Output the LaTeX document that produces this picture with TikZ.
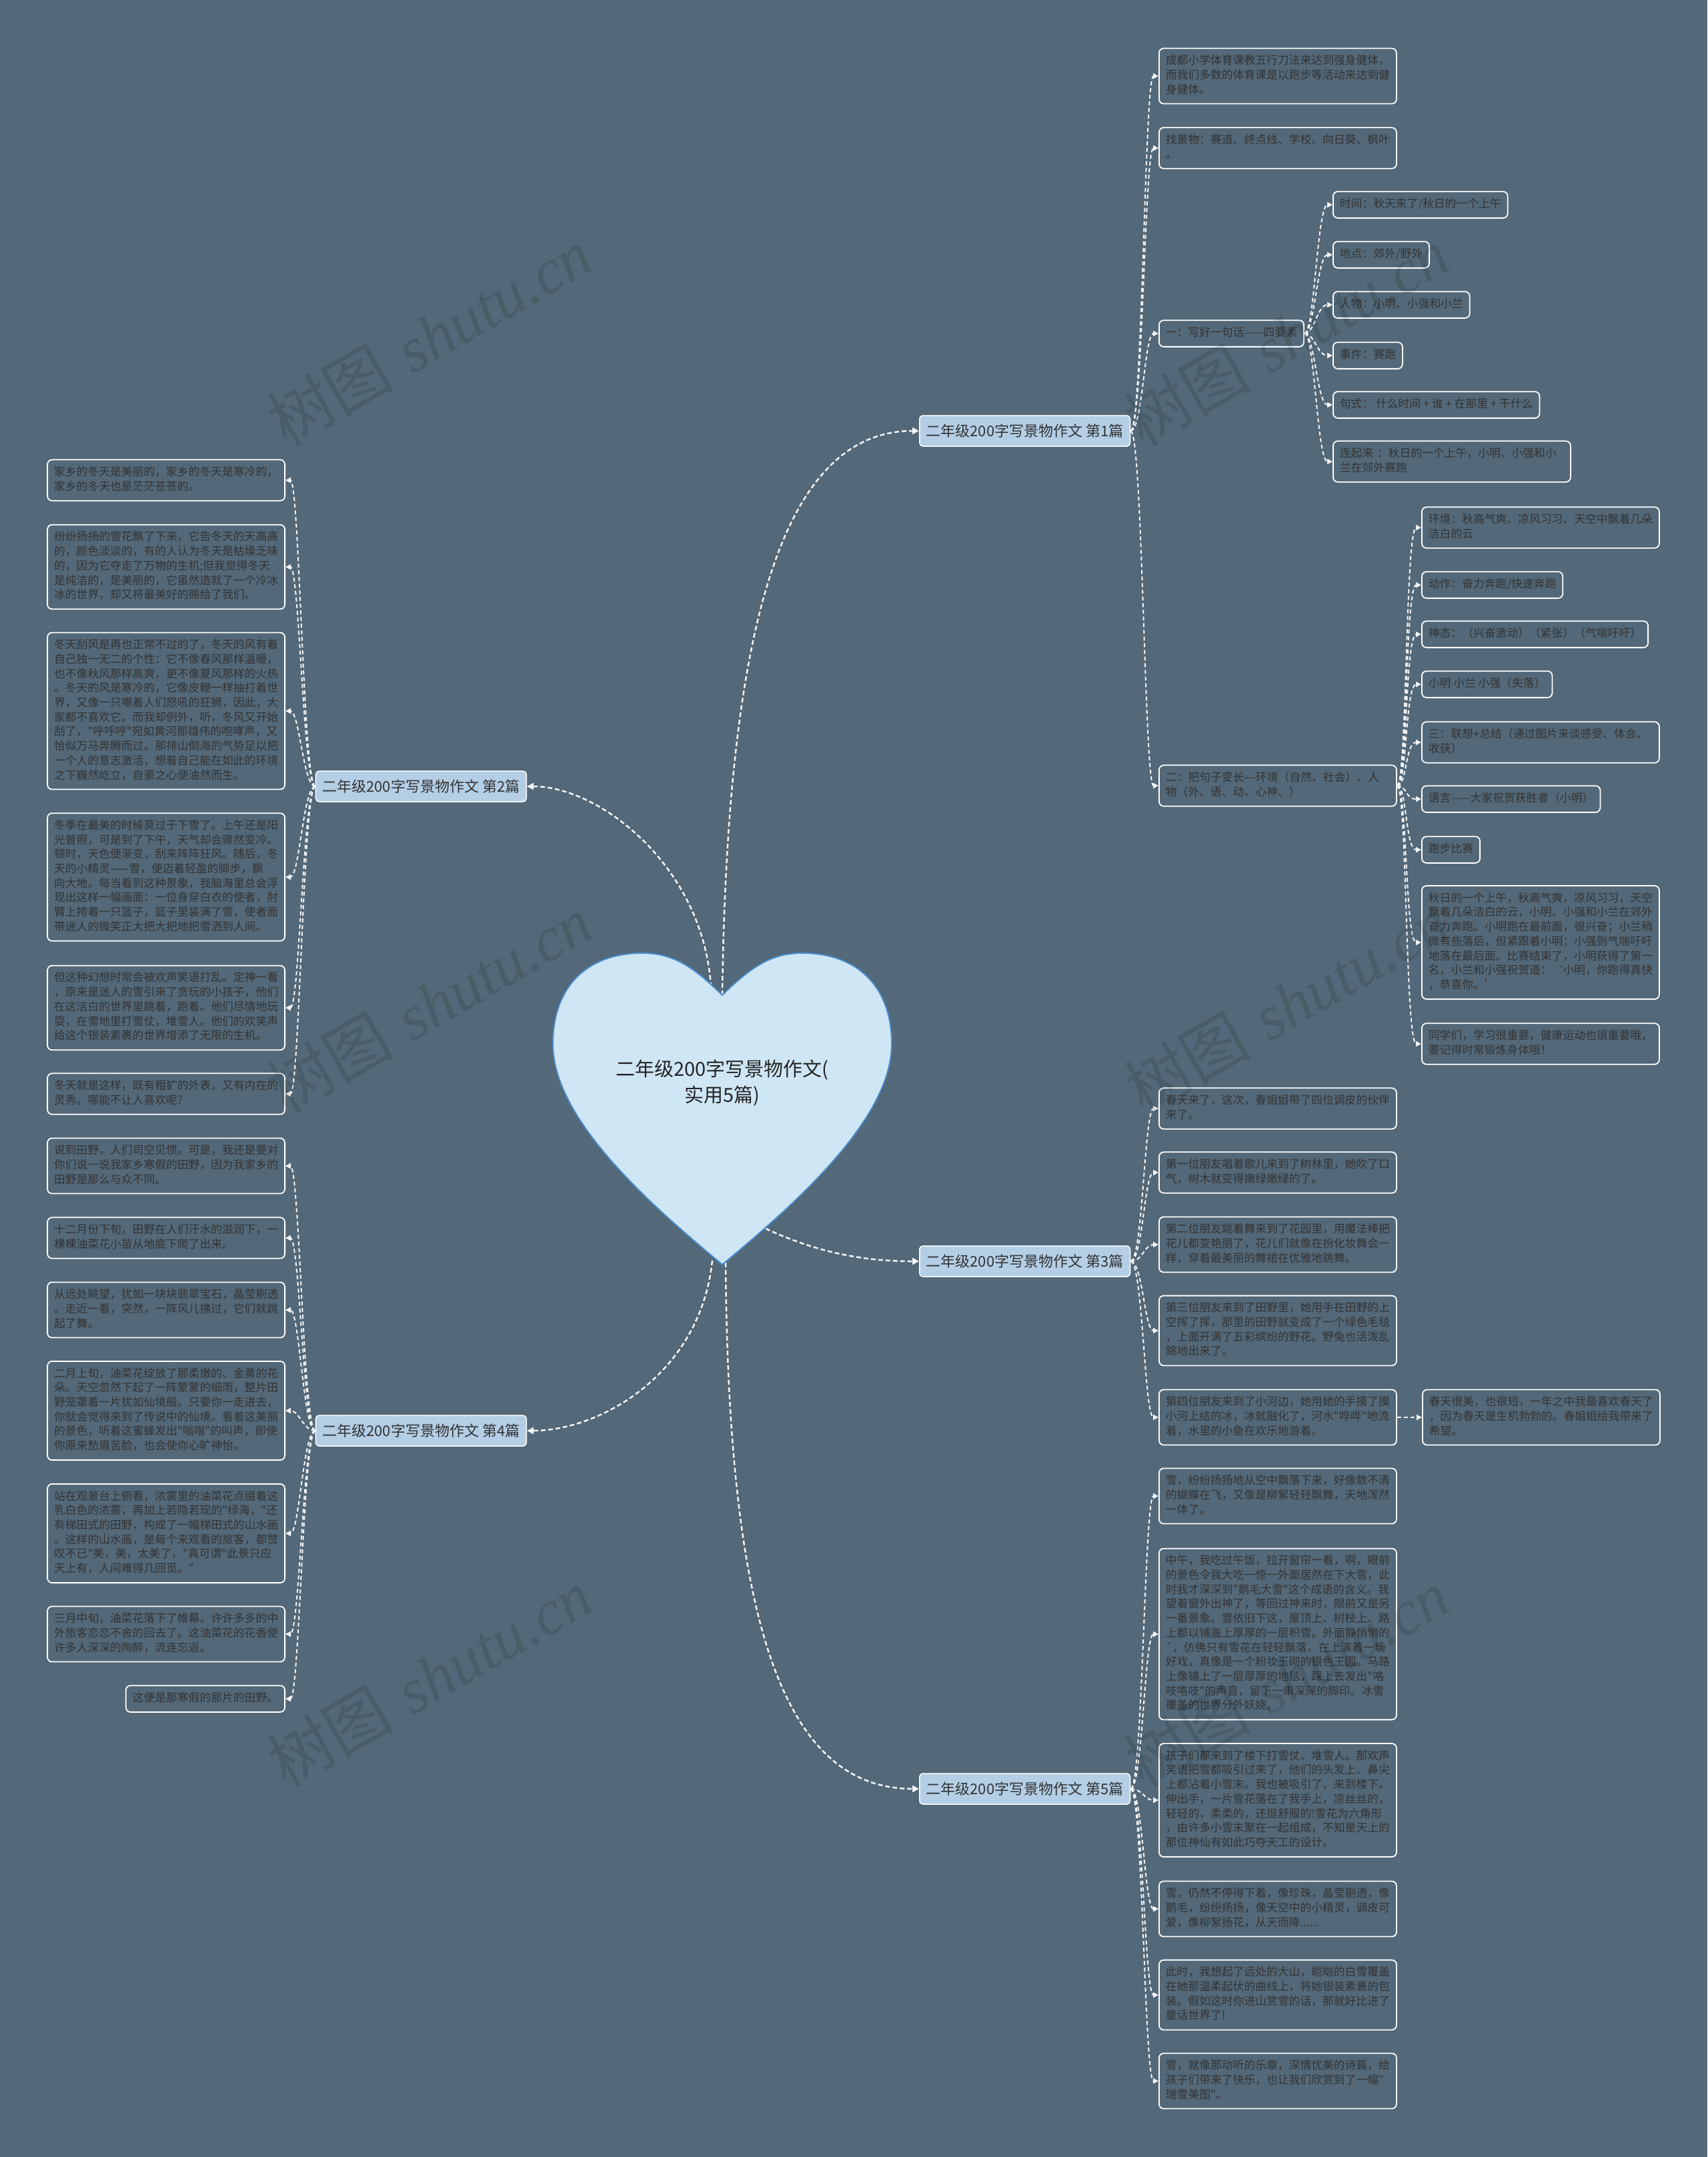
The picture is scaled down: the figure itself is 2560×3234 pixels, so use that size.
\documentclass[tikz,border=0pt]{standalone}
\usepackage{fontspec}
\newfontfamily\cjk{Noto Sans CJK SC}
\newfontfamily\wmlat{Liberation Serif}
\usetikzlibrary{arrows.meta}
\definecolor{bg}{HTML}{536878}
\definecolor{txt}{HTML}{333333}
\definecolor{brfill}{HTML}{B3CEE5}
\definecolor{hfill}{HTML}{CFE6F5}
\definecolor{hline}{HTML}{4B8BC8}
\definecolor{lnk}{HTML}{F2F5F8}
\tikzset{
  leaf/.style={draw=white, line width=1.8pt, rounded corners=7pt, fill=bg, text=txt,
    font=\cjk\fontsize{16.8}{21.7}\selectfont, inner xsep=10pt, inner ysep=9pt, align=left,
    execute at begin node=\noindent\strut, execute at end node=\strut},
  leafw/.style={leaf, text width=336pt},
  branch/.style={draw=white, line width=1.5pt, rounded corners=5pt, fill=brfill, text=txt,
    font=\cjk\fontsize{22}{26}\selectfont, inner xsep=10pt, inner ysep=0pt, minimum height=46pt},
  conn/.style={draw=lnk, line width=2pt, dash pattern=on 6pt off 4pt, -{Triangle[length=8pt,width=8pt]}},
  mainconn/.style={draw=lnk, line width=2.5pt, dash pattern=on 7pt off 4pt, -{Triangle[length=10pt,width=10pt]}},
  wm/.style={text=black, opacity=0.11, rotate=30, font=\fontsize{95}{100}\selectfont},
}
\begin{document}
\begin{tikzpicture}[x=1pt,y=-1pt]
\useasboundingbox (0,0) rectangle (2560,3234);
\fill[bg] (0,0) rectangle (2560,3234);

% ---------- heart anchor points ----------
\coordinate (hdip) at (1083,1492);
\coordinate (h2) at (1066,1480);
\coordinate (h3) at (1148,1842);
\coordinate (h4) at (1068,1890);
\coordinate (h5) at (1088,1893);

% ---------- branches ----------
\node[branch, anchor=west] (b1) at (1378,646) {二年级200字写景物作文 第1篇};
\node[branch, anchor=east] (b2) at (790,1179) {二年级200字写景物作文 第2篇};
\node[branch, anchor=west] (b3) at (1378,1891) {二年级200字写景物作文 第3篇};
\node[branch, anchor=east] (b4) at (790,2145) {二年级200字写景物作文 第4篇};
\node[branch, anchor=west] (b5) at (1378,2682) {二年级200字写景物作文 第5篇};

% ---------- 第1篇 ----------
\node[leafw, anchor=west] (a1) at (1737,114) {成都小学体育课教五行刀法来达到强身健体，\\而我们多数的体育课是以跑步等活动来达到健\\身健体。};
\node[leafw, anchor=west] (a2) at (1737,222) {找景物：赛道、终点线、学校、向日葵、枫叶\\。};
\node[leaf, anchor=west] (a3) at (1737,500) {一：写好一句话-{}-{}-{}-{}-四要素};
\node[leafw, anchor=west] (n2) at (1737,1178) {二：把句子变长-{}-{}-环境（自然、社会）、人\\物（外、语、动、心神、）};

\node[leaf, anchor=west] (t1) at (1998,307) {时间：秋天来了/秋日的一个上午};
\node[leaf, anchor=west] (t2) at (1998,382) {地点：郊外/野外};
\node[leaf, anchor=west] (t3) at (1998,457) {人物：小明、小强和小兰};
\node[leaf, anchor=west] (t4) at (1998,533) {事件：赛跑};
\node[leaf, anchor=west] (t5) at (1998,607) {句式： 什么时间 + 谁 + 在那里 + 干什么};
\node[leafw, anchor=west] (t6) at (1998,692) {连起来 ：秋日的一个上午，小明、小强和小\\兰在郊外赛跑};

\node[leafw, anchor=west] (u1) at (2131,791) {环境：秋高气爽、凉风习习、天空中飘着几朵\\洁白的云};
\node[leaf, anchor=west] (u2) at (2131,877) {动作：奋力奔跑/快速奔跑};
\node[leaf, anchor=west] (u3) at (2131,951) {神态：（兴奋激动）（紧张）（气喘吁吁）};
\node[leaf, anchor=west] (u4) at (2131,1026) {小明 小兰 小强（失落）};
\node[leafw, anchor=west] (u5) at (2131,1113) {三：联想+总结（通过图片来谈感受、体会、\\收获）};
\node[leaf, anchor=west] (u6) at (2131,1198) {语言-{}-{}-{}-{}-大家祝贺获胜者（小明）};
\node[leaf, anchor=west] (u7) at (2131,1274) {跑步比赛};
\node[leafw, anchor=west] (u8) at (2131,1413) {秋日的一个上午，秋高气爽，凉风习习，天空\\飘着几朵洁白的云，小明、小强和小兰在郊外\\奋力奔跑。小明跑在最前面，很兴奋；小兰稍\\微有些落后，但紧跟着小明；小强则气喘吁吁\\地落在最后面。比赛结束了，小明获得了第一\\名，小兰和小强祝贺道：‘小明，你跑得真快\\，恭喜你。’};
\node[leafw, anchor=west] (u9) at (2131,1565) {同学们，学习很重要，健康运动也很重要哦，\\要记得时常锻炼身体哦！};

% ---------- 第3篇 ----------
\node[leafw, anchor=west] (s1) at (1737,1662) {春天来了，这次，春姐姐带了四位调皮的伙伴\\来了。};
\node[leafw, anchor=west] (s2) at (1737,1758) {第一位朋友唱着歌儿来到了树林里，她吹了口\\气，树木就变得嫩绿嫩绿的了。};
\node[leafw, anchor=west] (s3) at (1737,1866) {第二位朋友跳着舞来到了花园里，用魔法棒把\\花儿都变艳丽了，花儿们就像在扮化妆舞会一\\样，穿着最美丽的舞裙在优雅地跳舞。};
\node[leafw, anchor=west] (s4) at (1737,1995) {第三位朋友来到了田野里，她用手在田野的上\\空挥了挥，那里的田野就变成了一个绿色毛毯\\，上面开满了五彩缤纷的野花。野兔也活泼乱\\跳地出来了。};
\node[leafw, anchor=west] (s5) at (1737,2125) {第四位朋友来到了小河边，她用她的手摸了摸\\小河上结的冰，冰就融化了，河水"哗哗"地流\\着，水里的小鱼在欢乐地游着。};
\node[leafw, anchor=west] (s6) at (2132,2125) {春天很美，也很短，一年之中我最喜欢春天了\\，因为春天是生机勃勃的。春姐姐给我带来了\\希望。};

% ---------- 第5篇 ----------
\node[leafw, anchor=west] (w1) at (1737,2243) {雪，纷纷扬扬地从空中飘落下来，好像数不清\\的蝴蝶在飞，又像是柳絮轻轻飘舞，天地浑然\\一体了。};
\node[leafw, anchor=west] (w2) at (1737,2450) {中午，我吃过午饭，拉开窗帘一看，啊，眼前\\的景色令我大吃一惊一外面居然在下大雪，此\\时我才深深到"鹅毛大雪"这个成语的含义。我\\望着窗外出神了，等回过神来时，眼前又是另\\一番景象。雪依旧下这，屋顶上、树枝上、路\\上都以铺盖上厚厚的一层积雪。外面静悄悄的\\`，仿佛只有雪花在轻轻飘落，在上演着一场\\好戏，真像是一个粉妆玉砌的银色王国。马路\\上像铺上了一层厚厚的地毯，踩上去发出"咯\\吱咯吱"的声音，留下一串深深的脚印。冰雪\\覆盖的世界分外妖娆。};
\node[leafw, anchor=west] (w3) at (1737,2699) {孩子们都来到了楼下打雪仗、堆雪人。那欢声\\笑语把雪都吸引过来了，他们的头发上、鼻尖\\上都沾着小雪末。我也被吸引了，来到楼下。\\伸出手，一片雪花落在了我手上，凉丝丝的，\\轻轻的，柔柔的，还挺舒服的!雪花为六角形\\，由许多小雪末聚在一起组成，不知是天上的\\那位神仙有如此巧夺天工的设计。};
\node[leafw, anchor=west] (w4) at (1737,2862) {雪，仍然不停得下着，像珍珠，晶莹剔透，像\\鹅毛，纷纷扬扬，像天空中的小精灵，调皮可\\爱，像柳絮扬花，从天而降......};
\node[leafw, anchor=west] (w5) at (1737,2991) {此时，我想起了远处的大山，皑皑的白雪覆盖\\在她那温柔起伏的曲线上，将她银装素裹的包\\装。假如这时你进山赏雪的话，那就好比进了\\童话世界了!};
\node[leafw, anchor=west] (w6) at (1737,3120) {雪，就像那动听的乐章，深情优美的诗篇，给\\孩子们带来了快乐，也让我们欣赏到了一幅"\\瑞雪美图"。};

% ---------- 第2篇 ----------
\node[leafw, anchor=east] (d1) at (428,720) {家乡的冬天是美丽的，家乡的冬天是寒冷的，\\家乡的冬天也是茫茫苍苍的。};
\node[leafw, anchor=east] (d2) at (428,850) {纷纷扬扬的雪花飘了下来，它告冬天的天高高\\的，颜色淡淡的，有的人认为冬天是枯燥乏味\\的，因为它夺走了万物的生机;但我觉得冬天\\是纯洁的，是美丽的，它虽然造就了一个冷冰\\冰的世界，却又将最美好的赐给了我们。};
\node[leafw, anchor=east] (d3) at (428,1066) {冬天刮风是再也正常不过的了，冬天的风有着\\自己独一无二的个性：它不像春风那样温暖，\\也不像秋风那样高爽，更不像夏风那样的火热\\。冬天的风是寒冷的，它像皮鞭一样抽打着世\\界，又像一只嘲着人们怒吼的狂狮，因此，大\\家都不喜欢它。而我却例外，听，冬风又开始\\刮了，"呼呼呼"宛如黄河那雄伟的咆哮声，又\\恰似万马奔腾而过。那排山倒海的气势足以把\\一个人的意志激活，想着自己能在如此的环境\\之下巍然屹立，自豪之心便油然而生。};
\node[leafw, anchor=east] (d4) at (428,1315) {冬季在最美的时候莫过于下雪了。上午还是阳\\光普照，可是到了下午，天气却会骤然变冷。\\顿时，天色便渐变，刮来阵阵狂风。随后，冬\\天的小精灵——雪，便迈着轻盈的脚步，飘\\向大地。每当看到这种景象，我脑海里总会浮\\现出这样一幅画面：一位身穿白衣的使者，肘\\臂上挎着一只篮子，篮子里装满了雪，使者面\\带迷人的微笑正大把大把地把雪洒到人间。};
\node[leafw, anchor=east] (d5) at (428,1511) {但这种幻想时常会被欢声笑语打乱。定神一看\\，原来是迷人的雪引来了贪玩的小孩子，他们\\在这洁白的世界里跳着，跑着。他们尽情地玩\\耍，在雪地里打雪仗，堆雪人。他们的欢笑声\\给这个银装素裹的世界增添了无限的生机。};
\node[leafw, anchor=east] (d6) at (428,1640) {冬天就是这样，既有粗犷的外表，又有内在的\\灵秀。哪能不让人喜欢呢?};

% ---------- 第4篇 ----------
\node[leafw, anchor=east] (e1) at (428,1748) {说到田野，人们司空见惯。可是，我还是要对\\你们说一说我家乡寒假的田野，因为我家乡的\\田野是那么与众不同。};
\node[leafw, anchor=east] (e2) at (428,1856) {十二月份下旬，田野在人们汗水的滋润下，一\\棵棵油菜花小苗从地底下爬了出来。};
\node[leafw, anchor=east] (e3) at (428,1964) {从远处眺望，犹如一块块翡翠宝石，晶莹剔透\\。走近一看，突然，一阵风儿拂过，它们就跳\\起了舞。};
\node[leafw, anchor=east] (e4) at (428,2115) {二月上旬，油菜花绽放了那柔嫩的、金黄的花\\朵。天空忽然下起了一阵蒙蒙的细雨，整片田\\野笼罩着一片犹如仙境般。只要你一走进去，\\你就会觉得来到了传说中的仙境。看着这美丽\\的景色，听着这蜜蜂发出"嗡嗡"的叫声，即使\\你原来愁眉苦脸，也会使你心旷神怡。};
\node[leafw, anchor=east] (e5) at (428,2299) {站在观景台上俯看，浓雾里的油菜花点缀着这\\乳白色的浓雾，再加上若隐若现的"绿海，"还\\有梯田式的田野，构成了一幅梯田式的山水画\\。这样的山水画，是每个来观看的旅客，都赞\\叹不已"美，美，太美了，"真可谓"此景只应\\天上有，人间难得几回觅。"};
\node[leafw, anchor=east] (e6) at (428,2450) {三月中旬，油菜花落下了帷幕。许许多多的中\\外旅客恋恋不舍的回去了。这油菜花的花香使\\许多人深深的陶醉，流连忘返。};
\node[leaf, anchor=east] (e7) at (428,2547) {这便是那寒假的那片的田野。};

% ---------- connectors: root to branches ----------
\draw[mainconn] (hdip) .. controls (1090,950) and (1170,646) .. (b1.west);
\draw[mainconn] (h2) .. controls (1055,1300) and (900,1179) .. (b2.east);
\draw[mainconn] (h3) .. controls (1230,1880) and (1300,1891) .. (b3.west);
\draw[mainconn] (h4) .. controls (1050,2060) and (900,2145) .. (b4.east);
\draw[mainconn] (h5) .. controls (1092,2420) and (1170,2682) .. (b5.west);

% ---------- connectors: branches to leaves ----------
\foreach \c in {a1,a2,a3,n2}
  \draw[conn] (b1.east) .. controls +(18,0) and +(-21,0) .. (\c.west);
\foreach \c in {t1,t2,t3,t4,t5,t6}
  \draw[conn] (a3.east) .. controls +(15,0) and +(-23,0) .. (\c.west);
\foreach \c in {u1,u2,u3,u4,u5,u6,u7,u8,u9}
  \draw[conn] (n2.east) .. controls +(15,0) and +(-24,0) .. (\c.west);
\foreach \c in {s1,s2,s3,s4,s5}
  \draw[conn] (b3.east) .. controls +(18,0) and +(-21,0) .. (\c.west);
\draw[conn] (s5.east) -- (s6.west);
\foreach \c in {w1,w2,w3,w4,w5,w6}
  \draw[conn] (b5.east) .. controls +(18,0) and +(-21,0) .. (\c.west);
\foreach \c in {d1,d2,d3,d4,d5,d6}
  \draw[conn] (b2.west) .. controls +(-18,0) and +(21,0) .. (\c.east);
\foreach \c in {e1,e2,e3,e4,e5,e6,e7}
  \draw[conn] (b4.west) .. controls +(-18,0) and +(21,0) .. (\c.east);

% ---------- heart ----------
\path[fill=hfill, draw=hline, line width=2pt]
  (hdip) .. controls (1040,1450) and (1010,1429) .. (963,1429)
  .. controls (880,1429) and (829,1480) .. (829,1565)
  .. controls (829,1680) and (980,1810) .. (1083,1896)
  .. controls (1186,1810) and (1337,1680) .. (1337,1565)
  .. controls (1337,1480) and (1286,1429) .. (1203,1429)
  .. controls (1156,1429) and (1126,1450) .. (hdip) -- cycle;
\node[text=txt!70!black, font=\cjk\fontsize{29}{39}\selectfont, align=center] (root) at (1083,1624) {二年级200字写景物作文(\\实用5篇)};

% ---------- watermarks ----------
\node[wm] (wm1) at (644,505) {{\cjk 树图} {\wmlat\itshape shutu.cn}};
\node[wm] (wm2) at (644,1506) {{\cjk 树图} {\wmlat\itshape shutu.cn}};
\node[wm] (wm3) at (644,2516) {{\cjk 树图} {\wmlat\itshape shutu.cn}};
\node[wm] (wm4) at (1929,505) {{\cjk 树图} {\wmlat\itshape shutu.cn}};
\node[wm] (wm5) at (1929,1506) {{\cjk 树图} {\wmlat\itshape shutu.cn}};
\node[wm] (wm6) at (1929,2516) {{\cjk 树图} {\wmlat\itshape shutu.cn}};
\end{tikzpicture}
\end{document}
